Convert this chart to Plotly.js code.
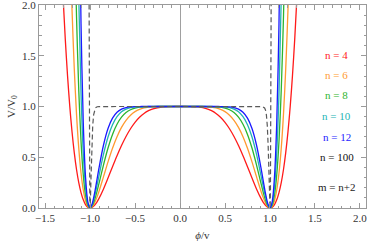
<!DOCTYPE html>
<html><head><meta charset="utf-8">
<script src="https://cdn.plot.ly/plotly-3.0.1.min.js"></script>
<style>html,body{margin:0;padding:0;background:#fff;overflow:hidden}#plot{width:367px;height:242px}</style>
</head><body><div id="plot"></div>
<script>
// phi/v sample points (x >= 0; curves are symmetric)
const xPos = [0, 0.1, 0.2, 0.3, 0.35, 0.4, 0.45, 0.5, 0.55, 0.6, 0.65, 0.7, 0.75, 0.8, 0.85, 0.9, 0.925, 0.95, 0.975, 1.0, 1.025, 1.05, 1.075, 1.1, 1.125, 1.15, 1.175, 1.2, 1.225, 1.25, 1.275, 1.3];
const vN4 = [1.0, 0.9997, 0.9953, 0.9772, 0.9587, 0.9314, 0.8936, 0.8438, 0.7808, 0.7045, 0.6153, 0.5150, 0.4067, 0.2955, 0.1883, 0.0946, 0.0565, 0.0267, 0.0071, 0, 0.0080, 0.0337, 0.0802, 0.1508, 0.2492, 0.3791, 0.5449, 0.7512, 1.0028, 1.3052, 1.6640, 2.0853];
const vN6 = [1.0, 1.0, 0.9998, 0.9973, 0.9933, 0.9856, 0.9718, 0.9492, 0.9144, 0.8638, 0.7939, 0.7024, 0.5884, 0.4547, 0.3089, 0.1656, 0.1023, 0.0499, 0.0137, 0, 0.0164, 0.0720, 0.1772, 0.3445, 0.5882, 0.9248, 1.3734, 1.9555, 2.6960];
const vN8 = [1.0, 1.0, 1.0, 0.9997, 0.9990, 0.9971, 0.9930, 0.9844, 0.9683, 0.9402, 0.8945, 0.8248, 0.7247, 0.5906, 0.4250, 0.2424, 0.1545, 0.0779, 0.0221, 0, 0.0283, 0.1283, 0.3267, 0.6570, 1.1604, 1.8871, 2.8984];
const vN10 = [1.0, 1.0, 1.0, 1.0, 0.9999, 0.9995, 0.9983, 0.9954, 0.9886, 0.9746, 0.9477, 0.8997, 0.8205, 0.6994, 0.5300, 0.3201, 0.2104, 0.1094, 0.0320, 0, 0.0439, 0.2059, 0.5427, 1.1297, 2.0655];
const vN12 = [1.0, 1.0, 1.0, 1.0, 1.0, 0.9999, 0.9996, 0.9987, 0.9960, 0.9895, 0.9746, 0.9438, 0.8852, 0.7829, 0.6209, 0.3956, 0.2677, 0.1435, 0.0434, 0, 0.0636, 0.3086, 0.8422, 1.8160, 3.4403];
const xN100 = [0, 0.9, 0.92, 0.94, 0.95, 0.96, 0.97, 0.98, 0.985, 0.99, 0.995, 0.9975, 1.0, 1.0025, 1.005, 1.0075, 1.01, 1.0125, 1.015];
const vN100 = [1.0, 0.9997, 0.9979, 0.9860, 0.9652, 0.9170, 0.8120, 0.6048, 0.4509, 0.2698, 0.0921, 0.0270, 0, 0.0377, 0.1787, 0.4782, 1.0135, 1.893, 3.266];
const labels = ['n = 4', 'n = 6', 'n = 8', 'n = 10', 'n = 12', 'n = 100', 'm = n+2'];
const xTicks = [-1.5, -1.0, -0.5, 0.0, 0.5, 1.0, 1.5, 2.0];
const yTicks = [0.0, 0.5, 1.0, 1.5, 2.0];

const colors = ['#ff1a1a', '#ff9a30', '#2db52d', '#22b4b4', '#1a1aff', '#111111', '#222222'];
const SERIF = 'Liberation Serif';

function mirror(xs, ys) {
  const X = [], Y = [];
  for (let i = xs.length - 1; i > 0; i--) { X.push(-xs[i]); Y.push(ys[i]); }
  for (let i = 0; i < xs.length; i++) { X.push(xs[i]); Y.push(ys[i]); }
  return [X, Y];
}
const series = [vN4, vN6, vN8, vN10, vN12];
const traces = series.map((v, k) => {
  const [X, Y] = mirror(xPos.slice(0, v.length), v);
  return {x: X, y: Y, type: 'scatter', mode: 'lines',
    line: {color: colors[k], width: 1.3, shape: 'spline', smoothing: 0.8}, hoverinfo: 'none'};
});
{
  const [X, Y] = mirror(xN100, vN100);
  traces.push({x: X, y: Y, type: 'scatter', mode: 'lines',
    line: {color: '#5a5a5a', width: 1.2, dash: '5px,3px'}, hoverinfo: 'none'});
}
const annY = [0.754, 0.655, 0.557, 0.453, 0.350, 0.251, 0.103];
const annotations = labels.map((t, k) => ({
  text: t, xref: 'paper', yref: 'paper', x: 0.911, y: annY[k], showarrow: false,
  xanchor: 'center', yanchor: 'middle',
  font: {family: SERIF, size: 11, color: colors[k]}
}));
function axisCommon() {
  return {
    showgrid: false, showline: true, linecolor: '#9a9a9a', linewidth: 1, mirror: 'allticks',
    ticks: 'inside', ticklen: 5, tickcolor: '#9a9a9a', tickwidth: 1,
    tickfont: {family: SERIF, size: 11, color: '#333'},
    tickformat: '.1f', ticklabeloverflow: 'allow', automargin: false,
    minor: {dtick: 0.1, ticks: 'inside', ticklen: 2.5, tickcolor: '#9a9a9a', tickwidth: 1, showgrid: false}
  };
}
const layout = {
  width: 367, height: 242,
  margin: {l: 39, r: 1, t: 5, b: 34},
  paper_bgcolor: '#fff', plot_bgcolor: '#fff',
  showlegend: false,
  font: {family: SERIF},
  xaxis: Object.assign(axisCommon(), {
    range: [-1.567, 2.067], tickvals: xTicks, zeroline: true, zerolinecolor: '#a0a0a0', zerolinewidth: 1,
    title: {text: '<i>ϕ</i>/v', font: {family: SERIF, size: 11, color: '#333'}, standoff: 8}
  }),
  yaxis: Object.assign(axisCommon(), {
    range: [0, 2], tickvals: yTicks, zeroline: false,
    title: {text: 'V/V<sub>0</sub>', font: {family: SERIF, size: 11, color: '#333'}, standoff: 4}
  }),
  annotations: annotations
};
Plotly.newPlot('plot', traces, layout, {staticPlot: true, displayModeBar: false});
</script></body></html>
